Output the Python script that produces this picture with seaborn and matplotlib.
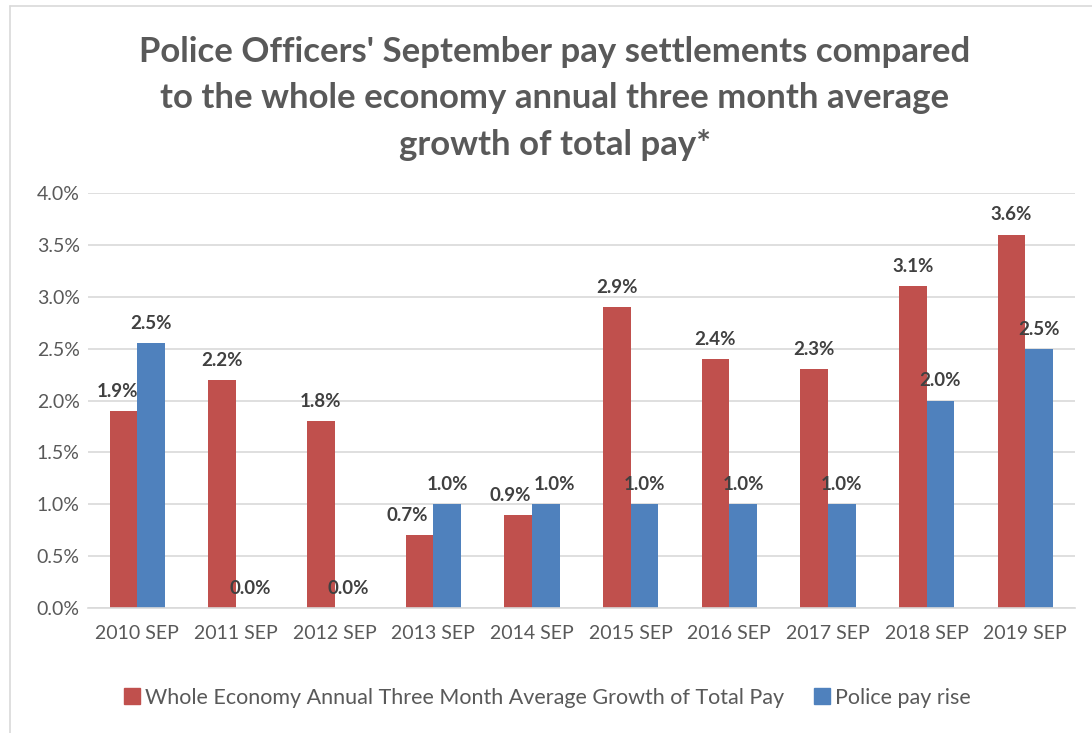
import numpy as np
import pandas as pd
import matplotlib.pyplot as plt
import seaborn as sns
from matplotlib.lines import Line2D
from matplotlib.ticker import FuncFormatter

years = ['2010 SEP', '2011 SEP', '2012 SEP', '2013 SEP', '2014 SEP',
         '2015 SEP', '2016 SEP', '2017 SEP', '2018 SEP', '2019 SEP']
economy_growth = [1.9, 2.2, 1.8, 0.7, 0.9, 2.9, 2.4, 2.3, 3.1, 3.6]
police_rise = [2.55, 0.0, 0.0, 1.0, 1.0, 1.0, 1.0, 1.0, 2.0, 2.5]
police_labels = ['2.5%', '0.0%', '0.0%', '1.0%', '1.0%', '1.0%', '1.0%', '1.0%', '2.0%', '2.5%']
series_names = ['Whole Economy Annual Three Month Average Growth of Total Pay', 'Police pay rise']

red = '#C0504D'
blue = '#4F81BD'
text_grey = '#595959'

df = pd.DataFrame({
    'year': years * 2,
    'value': economy_growth + police_rise,
    'series': [series_names[0]] * len(years) + [series_names[1]] * len(years),
})

sns.set_theme(style='white')
plt.rcParams['font.family'] = ['Lato', 'DejaVu Sans']

fig = plt.figure(figsize=(10.92, 7.33), dpi=100)
ax = fig.add_axes([0.0806, 0.1705, 0.9034, 0.5662])

sns.barplot(data=df, x='year', y='value', hue='series', palette=[red, blue],
            width=0.56, gap=0, saturation=1, linewidth=0, ax=ax, legend=False)

ax.set_ylim(0, 4.0)
ax.set_yticks(np.arange(0, 4.01, 0.5))
ax.yaxis.set_major_formatter(FuncFormatter(lambda v, p: f'{v:.1f}%'))
ax.grid(axis='y', color='#D9D9D9', linewidth=1.2)
ax.set_axisbelow(True)
for side in ['top', 'right', 'left']:
    ax.spines[side].set_visible(False)
ax.spines['bottom'].set_color('#D9D9D9')
ax.spines['bottom'].set_linewidth(1.2)
ax.tick_params(axis='both', labelsize=14, colors=text_grey, length=0)
ax.tick_params(axis='x', pad=12)
ax.tick_params(axis='y', pad=6)
ax.set_xlabel('')
ax.set_ylabel('')

econ_labels = [f'{v:.1f}%' for v in economy_growth]
econ_texts = ax.bar_label(ax.containers[0], labels=econ_labels, padding=8, fontsize=13.5,
                          fontweight='bold', color='#404040')
police_texts = ax.bar_label(ax.containers[1], labels=police_labels, padding=8, fontsize=13.5,
                            fontweight='bold', color='#404040')

# nudge crowded labels sideways like Excel does (pixels)
for i, dx in {0: -6, 3: -12, 4: -8}.items():
    econ_texts[i].xyann = (dx * 0.72, econ_texts[i].xyann[1])
for i, dx in {4: 9}.items():
    police_texts[i].xyann = (dx * 0.72, police_texts[i].xyann[1])

fig.suptitle("Police Officers' September pay settlements compared\n"
             "to the whole economy annual three month average\n"
             "growth of total pay*",
             x=0.508, y=0.951, fontsize=25, fontweight='bold', color=text_grey,
             linespacing=1.55)

handles = [Line2D([], [], marker='s', linestyle='', markersize=12, color=c) for c in [red, blue]]
fig.legend(handles, series_names, loc='center', bbox_to_anchor=(0.5, 0.048), ncol=2,
           frameon=False, fontsize=15.5, labelcolor=text_grey, handletextpad=0.1,
           columnspacing=1.3, handlelength=1)

# chart frame lines
fig.add_artist(Line2D([10 / 1092, 10 / 1092], [0, 1 - 6 / 733], transform=fig.transFigure,
                      color='#D9D9D9', linewidth=1.2))
fig.add_artist(Line2D([10 / 1092, 1], [1 - 6 / 733, 1 - 6 / 733], transform=fig.transFigure,
                      color='#D9D9D9', linewidth=1.2))

fig.savefig('out.png', dpi=100)
